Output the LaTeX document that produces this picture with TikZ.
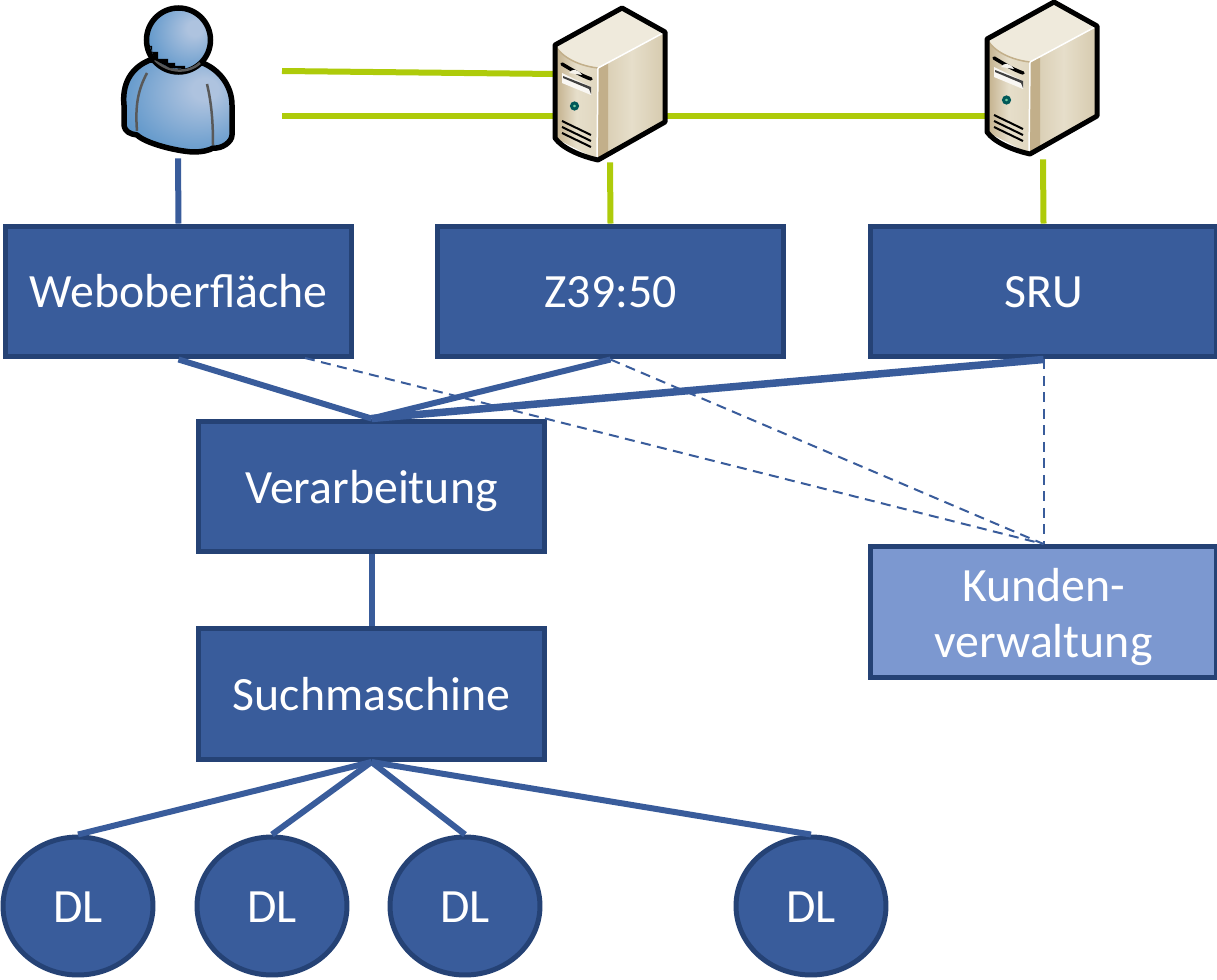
\documentclass[tikz,border=0pt]{standalone}
\usepackage{fontspec}
\setmainfont{Carlito}
\usetikzlibrary{positioning,shapes.geometric}
\definecolor{boxblue}{HTML}{395C9B}
\definecolor{boxedge}{HTML}{254275}
\definecolor{lightblue}{HTML}{7C98D0}
\definecolor{linkgreen}{HTML}{AECB0A}
\definecolor{srvtop}{HTML}{EFEADC}
\definecolor{srvfront}{HTML}{E0D7C0}
\definecolor{srvside}{HTML}{D6CAAE}
\definecolor{srvmid}{HTML}{E6DECA}
\definecolor{srvdark}{HTML}{C2AF8A}
\definecolor{userlight}{HTML}{AEC3DF}
\definecolor{usermid}{HTML}{4C8CC5}
\pgfdeclareradialshading{userblue}{\pgfpoint{14bp}{10bp}}{color(0bp)=(userlight);color(6bp)=(userlight);color(40bp)=(usermid);color(70bp)=(usermid)}
\tikzstyle{comp} = [rectangle, draw=boxedge, line width=0.1cm, fill=boxblue, text=white, align=center, font=\fontsize{27.2}{32.3}\selectfont, minimum width=6.92cm, minimum height=2.62cm, inner sep=0pt]
\tikzstyle{oneline} = [text height=0.7cm, text depth=0.04cm]
\tikzstyle{dlnode} = [ellipse, draw=boxedge, line width=0.1cm, fill=boxblue, text=white, font=\fontsize{27.2}{32.3}\selectfont, minimum width=3cm, minimum height=2.76cm, inner sep=0pt, oneline]
\tikzstyle{icon} = [rectangle, inner sep=0pt, minimum width=2.2cm, minimum height=3.12cm]
\tikzstyle{bluelink} = [draw=boxblue, line width=0.12cm]
\tikzstyle{greenlink} = [draw=linkgreen, line width=0.12cm]
\tikzstyle{dashlink} = [draw=boxblue, line width=0.04cm, dash pattern=on 0.2cm off 0.13cm]
% server icon, given the shift of its upper corner
\newcommand{\drawserver}[2]{
  \begin{scope}[shift={(#1,#2)}]
    \shade[left color=srvdark, right color=srvfront, middle color=srvmid] (555,45) -- (598,68) -- (598,160) -- (555,138) -- cycle;
    \shade[left color=srvside, right color=srvside, middle color=srvmid] (598,68) -- (665,32) -- (665,122) -- (598,160) -- cycle;
    \fill[srvdark] (598,68) -- (608,62) -- (608,154) -- (598,160) -- cycle;
    \fill[srvtop] (555,45) -- (622,8) -- (665,32) -- (598,68) .. controls (580,66) and (562,58) .. (555,45) -- cycle;
    \draw[srvdark, line width=0.03cm] (598,68) .. controls (580,66) and (562,58) .. (555,45);
    \draw[white, line width=0.03cm] (598,68) -- (665,32);
    \draw[white, line width=0.03cm] (598,68) -- (597,160);
    \draw[black, line width=0.07cm, line cap=round] (562,64) .. controls (572,70) and (582,76) .. (591,79);
    \fill[white!85!srvdark] (569,73) .. controls (572,68) and (578,69) .. (582,75) -- cycle;
    \fill[white!90!srvdark] (562,73) -- (591,87) -- (591,95) -- (562,83) -- cycle;
    \fill[black!75] (563,76) -- (591,87) -- (591,94) -- (589,89) -- (563,78) -- cycle;
    \draw[teal!70!black, fill=green!30!teal!55, line width=0.06cm] (574.5,106) circle (3);
    \foreach \dy in {0,6,12} {
      \draw[black, line width=0.04cm] (562,121+\dy) -- (591,135+\dy);
    }
    \draw[black, line width=0.1cm, line join=round] (622,8) -- (665,32) -- (665,122) -- (598,160) .. controls (580,156) and (562,148) .. (555,138) -- (555,45) -- cycle;
  \end{scope}
}
\begin{document}
\begin{tikzpicture}[x=0.02cm, y=-0.02cm]
  \useasboundingbox (0,0) rectangle (1217,980);
  % draw the components
  \node[comp, oneline] (web) at (178.5,291.5) {Weboberfläche};
  \node[comp, oneline] (z39) at (610.5,291.5) {Z39:50};
  \node[comp, oneline] (sru) at (1043.5,291.5) {SRU};
  \node[comp, oneline] (verarb) at (371.5,486.5) {Verarbeitung};
  \node[comp, oneline] (such) at (371.5,694) {Suchmaschine};
  \node[comp, fill=lightblue] (kunden) at (1043.5,612) {\rule{0pt}{0.86cm}Kunden-\\verwaltung};
  % draw the data sources
  \foreach \x [count=\step from 1] in {78,272,465,811}
    \node[dlnode] (dl\step) at (\x,906) {DL};
  % draw free ends and places for the icons
  \node[icon] (user) at (178,80) {};
  \node[icon] (srv1) at (610,84) {};
  \node[icon] (srv2) at (1043,81) {};
  \coordinate (u1) at (282,71);
  \coordinate (u2) at (282,116);
  \coordinate (s1) at (555,74);
  \coordinate (w1) at (305,358);
  % draw green links
  \draw[greenlink] (u1) -- (s1);
  \draw[greenlink] (u2) -- (srv1.west |- u2);
  \draw[greenlink] (srv1.east |- u2) -- (srv2.west |- u2);
  \draw[greenlink] (srv1.south) -- (z39.north);
  \draw[greenlink] (srv2.south) -- (sru.north);
  % draw blue links
  \draw[bluelink] (user.south) -- (web.north);
  \draw[bluelink] (web.south) -- (verarb.north);
  \draw[bluelink] (z39.south) -- (verarb.north);
  \draw[bluelink, line width=0.15cm] (sru.south) -- (verarb.north);
  \draw[bluelink] (verarb.south) -- (such.north);
  \foreach \step in {1,...,4} {
    \draw[bluelink] (such.south) -- (dl\step.north);
  }
  % draw dashed links to the customer box
  \draw[dashlink] (w1) -- (kunden.north);
  \draw[dashlink] (z39.south) -- (kunden.north);
  \draw[dashlink] (sru.south) -- (kunden.north);
  % draw the user icon
  \path[shading=userblue, draw=black, line width=0.11cm, line join=round] (150,60) .. controls (130,68) and (122,85) .. (124,105) -- (124,125) .. controls (125,132) and (130,134) .. (137,135) .. controls (145,143) and (175,151) .. (193,152) .. controls (203,152) and (210,150) .. (213,148) .. controls (222,149) and (232,142) .. (232,135) -- (232,105) .. controls (232,85) and (218,68) .. (200,62) -- cycle;
  \draw[gray!70!black, line width=0.05cm] (147,73) .. controls (138,90) and (135,105) .. (137,131);
  \draw[gray!70!black, line width=0.05cm] (207,84) .. controls (212,105) and (213,125) .. (213,145);
  \path[shading=userblue, draw=black, line width=0.11cm] (178.5,40) circle (32);
  \draw[gray!70!black, line width=0.05cm] (155,60) .. controls (168,73) and (188,74) .. (200,63);
  \fill[black] (150,46) -- (152,46) -- (152,52) -- (158,52) -- (158,59) -- (168,59) -- (168,63) -- (175,63) -- (175,66) -- (185,66) -- (185,69) -- (170,68) -- (155,60) -- cycle;
  % draw the servers
  \drawserver{0}{0}
  \drawserver{432}{-6}
\end{tikzpicture}
\end{document}
